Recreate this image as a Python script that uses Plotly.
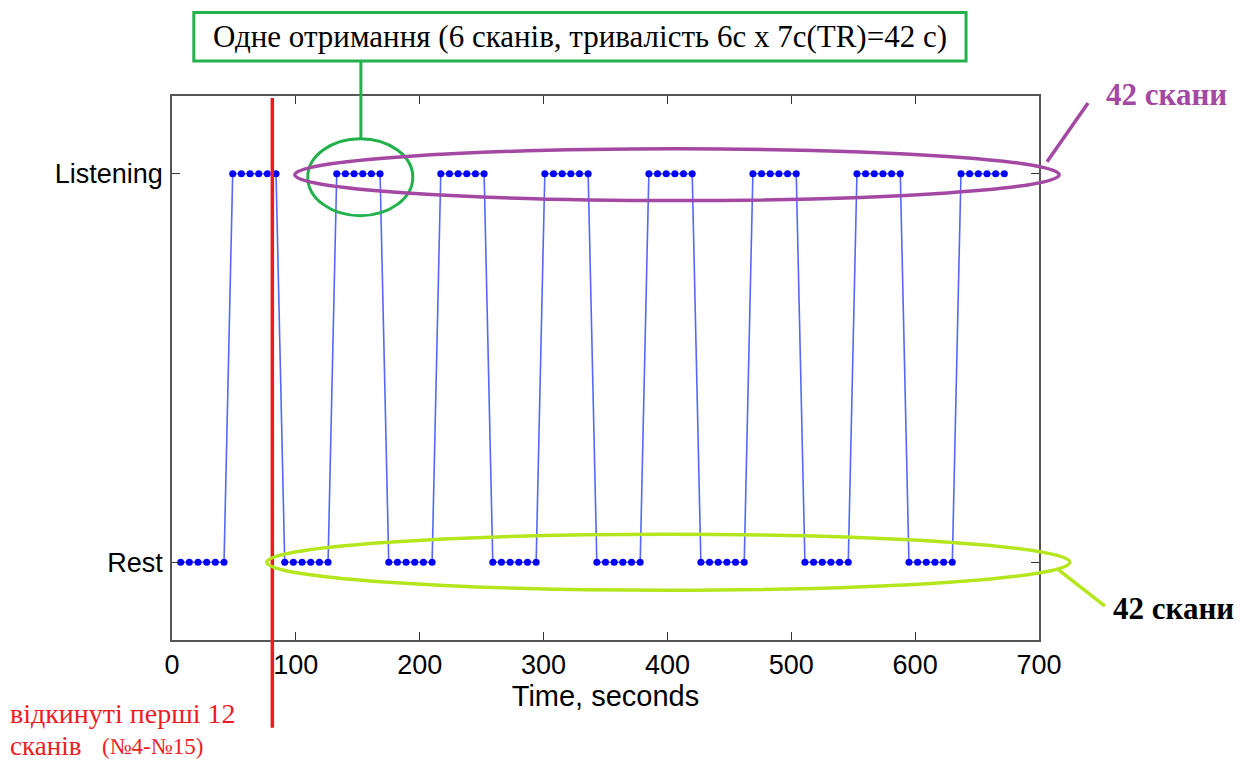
import plotly.graph_objects as go

# Block design: 16 blocks of 6 scans each, TR = 7 s
TR = 7
scans_per_block = 6
block_states = ["Rest", "Listening", "Rest", "Listening", "Rest", "Listening",
                "Rest", "Listening", "Rest", "Listening", "Rest", "Listening",
                "Rest", "Listening", "Rest", "Listening"]
state_levels = {"Rest": 0, "Listening": 1}
x_ticks = [0, 100, 200, 300, 400, 500, 600, 700]
discard_time = 81  # position of the cut-off marker, seconds

scan_times = []
scan_levels = []
n = 0
for state in block_states:
    for _ in range(scans_per_block):
        n += 1
        scan_times.append(n * TR)
        scan_levels.append(state_levels[state])

X_RANGE = (0, 700)
Y_RANGE = (-0.2, 1.2)


def px(t):
    return (t - X_RANGE[0]) / (X_RANGE[1] - X_RANGE[0])


def py(v):
    return (v - Y_RANGE[0]) / (Y_RANGE[1] - Y_RANGE[0])


fig = go.Figure()
fig.add_trace(go.Scatter(
    x=scan_times, y=scan_levels, mode="lines+markers",
    line=dict(color="#5566ff", width=1.6),
    marker=dict(color="#0000ff", size=7),
    showlegend=False, hoverinfo="skip",
))

GREEN = "#22b14c"
PURPLE = "#a349a4"
LIME = "#b5e61d"
RED = "#ed1c24"

shapes = [
    # cut-off marker
    dict(type="line", xref="paper", yref="paper",
         x0=px(discard_time), x1=px(discard_time), y0=py(1.195), y1=py(-0.426),
         line=dict(color=RED, width=3.5)),
    # one acquisition
    dict(type="circle", xref="paper", yref="paper",
         x0=px(109.6), x1=px(194.4), y0=py(0.892), y1=py(1.09),
         line=dict(color=GREEN, width=3)),
    dict(type="line", xref="paper", yref="paper",
         x0=px(152.5), x1=px(152.5), y0=py(1.09), y1=py(1.29),
         line=dict(color=GREEN, width=3)),
    dict(type="rect", xref="paper", yref="paper",
         x0=px(17.6), x1=px(641.1), y0=py(1.29), y1=py(1.415),
         line=dict(color=GREEN, width=3), fillcolor="white"),
    # listening scans
    dict(type="circle", xref="paper", yref="paper",
         x0=px(99.1), x1=px(716.3), y0=py(0.931), y1=py(1.064),
         line=dict(color=PURPLE, width=3.5)),
    dict(type="line", xref="paper", yref="paper",
         x0=px(706.5), x1=px(739.6), y0=py(1.031), y1=py(1.182),
         line=dict(color=PURPLE, width=3.5)),
    # rest scans
    dict(type="circle", xref="paper", yref="paper",
         x0=px(76.5), x1=px(725), y0=py(-0.072), y1=py(0.072),
         line=dict(color=LIME, width=3.5)),
    dict(type="line", xref="paper", yref="paper",
         x0=px(715.3), x1=px(753.3), y0=py(-0.018), y1=py(-0.113),
         line=dict(color=LIME, width=3.5)),
]

serif = "Liberation Serif"
annotations = [
    dict(x=px(329.4), y=py(1.352), xref="paper", yref="paper",
         text="Одне отримання (6 сканів, тривалість 6с х 7с(TR)=42 с)",
         showarrow=False, font=dict(family=serif, size=31, color="black"),
         xanchor="center", yanchor="middle"),
    dict(x=px(803.3), y=py(1.205), xref="paper", yref="paper",
         text="<b>42 скани</b>", showarrow=False,
         font=dict(family=serif, size=31, color=PURPLE),
         xanchor="center", yanchor="middle"),
    dict(x=px(808.2), y=py(-0.118), xref="paper", yref="paper",
         text="<b>42 скани</b>", showarrow=False,
         font=dict(family=serif, size=31, color="black"),
         xanchor="center", yanchor="middle"),
    dict(x=px(-131.5), y=py(-0.39), xref="paper", yref="paper",
         text="відкинуті перші 12", showarrow=False, borderpad=0,
         font=dict(family=serif, size=28, color=RED),
         xanchor="left", yanchor="middle"),
    dict(x=px(-131.5), y=py(-0.474), xref="paper", yref="paper",
         text="сканів", showarrow=False, borderpad=0,
         font=dict(family=serif, size=27, color=RED),
         xanchor="left", yanchor="middle"),
    dict(x=px(-57), y=py(-0.474), xref="paper", yref="paper",
         text="(№4-№15)", showarrow=False, borderpad=0,
         font=dict(family=serif, size=23, color=RED),
         xanchor="left", yanchor="middle"),
]

axis_common = dict(
    showline=True, linecolor="#555555", linewidth=1.5, mirror="ticks",
    ticks="inside", ticklen=8, tickcolor="#333333", tickwidth=1.2,
    showgrid=False, zeroline=False,
    tickfont=dict(family="Liberation Sans", size=27, color="black"),
)

fig.update_layout(
    width=1251, height=762,
    margin=dict(l=172, r=212, t=96, b=122),
    paper_bgcolor="white", plot_bgcolor="white",
    xaxis=dict(range=list(X_RANGE), tickvals=x_ticks,
               title=dict(text="Time, seconds", standoff=2,
                          font=dict(family="Liberation Sans", size=29, color="black")),
               **axis_common),
    yaxis=dict(range=list(Y_RANGE), tickvals=[0, 1], ticktext=["Rest", "Listening"],
               ticklabelstandoff=2, **axis_common),
    shapes=shapes,
    annotations=annotations,
)

fig.write_html("out.html")
